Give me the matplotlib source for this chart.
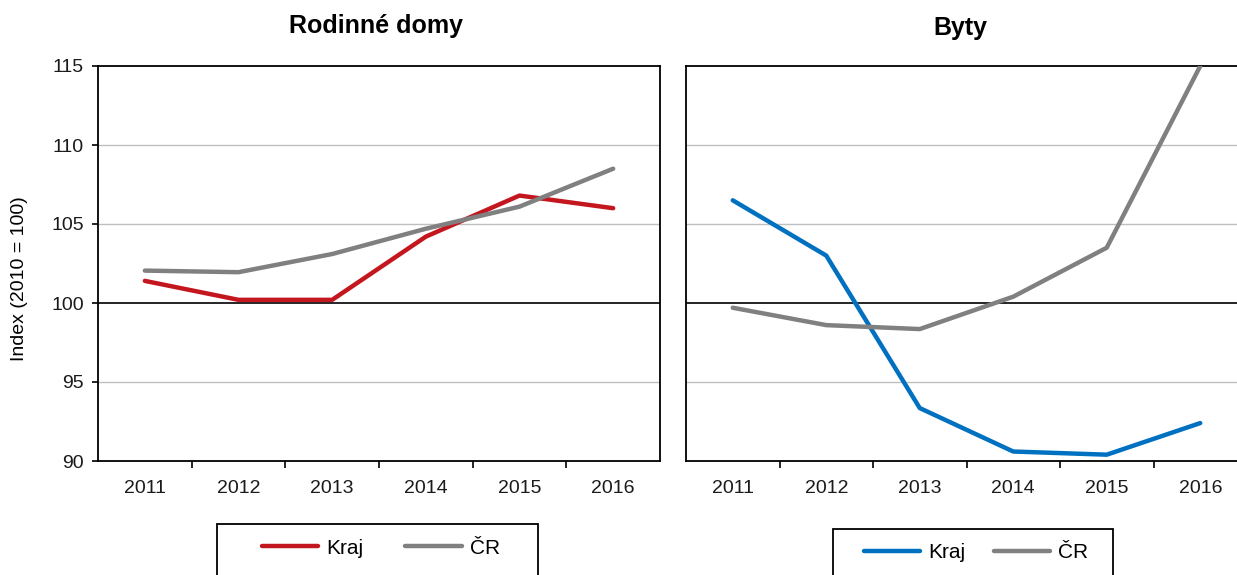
import matplotlib.pyplot as plt
from matplotlib.patches import Rectangle
from matplotlib.ticker import FixedLocator

plt.rcParams['font.family'] = ['Liberation Sans', 'DejaVu Sans']

roky = ["2011", "2012", "2013", "2014", "2015", "2016"]
domy_kraj = [101.4, 100.2, 100.2, 104.2, 106.8, 106.0]
domy_cr = [102.05, 101.95, 103.1, 104.7, 106.1, 108.5]
byty_kraj = [106.5, 103.0, 93.35, 90.6, 90.4, 92.4]
byty_cr = [99.7, 98.6, 98.35, 100.4, 103.5, 115.0]
y_ticks = [90, 95, 100, 105, 110, 115]

cervena = "#C3161F"
modra = "#0070C0"
seda = "#808080"
W, H = 1237, 575

fig = plt.figure(figsize=(W / 100, H / 100), dpi=100)
ax1 = fig.add_axes([98 / W, 1 - 461 / H, 562 / W, 395 / H])
ax2 = fig.add_axes([686 / W, 1 - 461 / H, 561 / W, 395 / H])

x = range(len(roky))


def uprav_osu(ax):
    ax.set_ylim(90, 115)
    ax.set_xlim(-0.5, len(roky) - 0.5)
    ax.set_yticks(y_ticks)
    for y in y_ticks:
        if y == 100:
            ax.axhline(y, color="black", lw=1.2, zorder=1)
        elif y not in (90, 115):
            ax.axhline(y, color="#BFBFBF", lw=1.0, zorder=1)
    ax.set_xticks(list(x))
    ax.set_xticklabels(roky, fontsize=14, color="#1a1a1a")
    ax.xaxis.set_minor_locator(FixedLocator([i + 0.5 for i in range(len(roky) - 1)]))
    ax.tick_params(axis="x", which="major", length=0, pad=13.5)
    ax.tick_params(axis="x", which="minor", length=5, width=1.2, direction="out")
    for s in ax.spines.values():
        s.set_linewidth(1.3)
        s.set_color("black")


uprav_osu(ax1)
ax1.plot(x, domy_kraj, color=cervena, lw=3.2, solid_capstyle="round", zorder=3, label="Kraj")
ax1.plot(x, domy_cr, color=seda, lw=3.2, solid_capstyle="round", zorder=3, label="ČR")
ax1.tick_params(axis="y", length=4, width=1.2, direction="out", pad=6, labelsize=14,
                labelcolor="#1a1a1a")
ax1.set_ylabel("Index (2010 = 100)", fontsize=14)
ax1.yaxis.set_label_coords(-0.125, 0.462)
fig.text(376 / W, 1 - 26 / H, "Rodinné domy", fontsize=18, fontweight="bold",
         ha="center", va="center")

uprav_osu(ax2)
ax2.plot(x, byty_kraj, color=modra, lw=3.2, solid_capstyle="round", zorder=3, label="Kraj")
ax2.plot(x, byty_cr, color=seda, lw=3.2, solid_capstyle="round", zorder=3, label="ČR")
ax2.tick_params(axis="y", length=0, labelleft=False)
fig.text(960 / W, 1 - 28 / H, "Byty", fontsize=18, fontweight="bold", ha="center", va="center")

# legendy pod grafy s ramečkem
for ax, cx, cy, sp, box in [(ax1, 381, 548, 2.0, (217, 524, 321)),
                            (ax2, 976, 553, 1.35, (833, 529, 280))]:
    h, l = ax.get_legend_handles_labels()
    fig.legend(h, l, loc="center", bbox_to_anchor=(cx / W, 1 - cy / H), ncol=2,
               frameon=False, fontsize=15, handlelength=2.7, handletextpad=0.4,
               columnspacing=sp, borderpad=0)
    bx, by, bw = box
    fig.patches.append(Rectangle((bx / W, 1 - (by + 80) / H), bw / W, 80 / H,
                                 transform=fig.transFigure, fill=False,
                                 edgecolor="black", lw=1.3))

fig.savefig("out.png", dpi=100)
